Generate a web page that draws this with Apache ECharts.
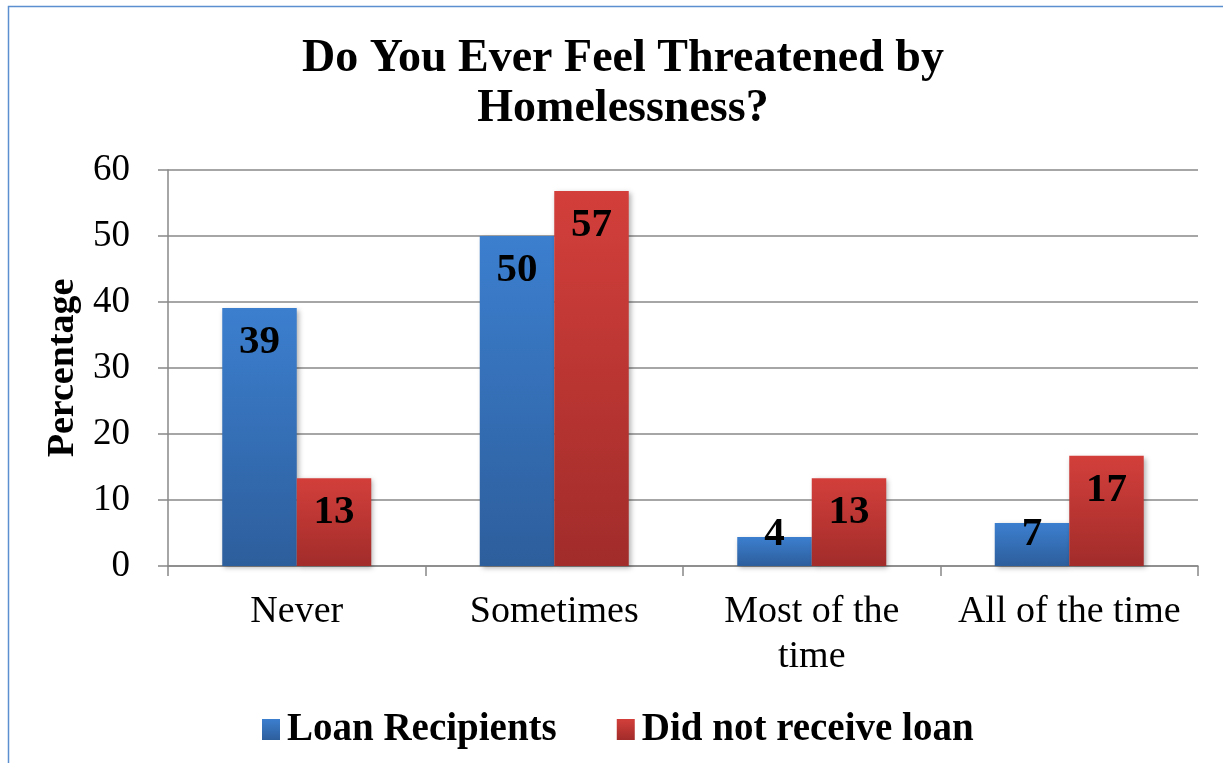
<!DOCTYPE html>
<html><head><meta charset="utf-8">
<script src="https://cdn.jsdelivr.net/npm/echarts@6/dist/echarts.min.js"></script>
<style>html,body{margin:0;padding:0;background:#fff}#c{width:1223px;height:763px}</style>
</head><body><div id="c"></div>
<script>
const categories = ['Never', 'Sometimes', 'Most of the\ntime', 'All of the time'];
const loanRecipients = [39.1, 50, 4.4, 6.5];
const noLoan = [13.3, 56.8, 13.3, 16.7];
const seriesNames = ['Loan Recipients', 'Did not receive loan'];
const yTicks = [0, 10, 20, 30, 40, 50, 60];

const F = 'Liberation Serif';
const chart = echarts.init(document.getElementById('c'), null, {renderer: 'canvas'});

function grad(top, bottom) {
  return new echarts.graphic.LinearGradient(0, 0, 0, 1, [{offset: 0, color: top}, {offset: 1, color: bottom}]);
}
function mkData(vals) {
  return vals.map(v => v < 10
    ? {value: v, label: {position: 'insideBottom', distance: 11}}
    : {value: v});
}
const labelStyle = {
  show: true, position: 'insideTop', distance: 14,
  fontFamily: F, fontWeight: 'bold', fontSize: 41, color: '#000',
  formatter: p => Math.round(p.value)
};

chart.setOption({
  animation: false,
  backgroundColor: '#fff',
  title: {
    text: 'Do You Ever Feel Threatened by\nHomelessness?',
    left: 618, textAlign: 'center', top: 29,
    textStyle: {fontFamily: F, fontWeight: 'bold', fontSize: 46, lineHeight: 50, color: '#000'}
  },
  legend: {
    top: 705, left: 257,
    itemWidth: 18, itemHeight: 21, itemGap: 60,
    icon: 'rect',
    textStyle: {fontFamily: F, fontWeight: 'bold', fontSize: 39, color: '#000', padding: [0, 0, 0, 2]},
    data: seriesNames
  },
  grid: {left: 168, right: 25, top: 170, bottom: 197},
  xAxis: {
    type: 'category', data: categories,
    axisLine: {lineStyle: {color: '#888', width: 1.5}},
    axisTick: {show: true, interval: 0, length: 10, lineStyle: {color: '#888', width: 1.5}},
    axisLabel: {interval: 0, fontFamily: F, fontSize: 38, color: '#000', margin: 24, lineHeight: 45}
  },
  yAxis: {
    type: 'value', min: 0, max: 60, interval: 10,
    name: 'Percentage', nameLocation: 'middle', nameGap: 84, nameRotate: 90,
    nameTextStyle: {fontFamily: F, fontWeight: 'bold', fontSize: 38, color: '#000'},
    axisLine: {show: true, lineStyle: {color: '#888', width: 1.5}},
    axisTick: {show: true, length: 10, lineStyle: {color: '#888', width: 1.5}},
    axisLabel: {fontFamily: F, fontSize: 37, color: '#000', margin: 38,
      formatter: v => yTicks.includes(v) ? String(v) : ''},
    splitLine: {lineStyle: {color: '#888', width: 1.5}}
  },
  series: [
    {name: seriesNames[0], type: 'bar', data: mkData(loanRecipients),
     barWidth: 74.5, barGap: '0%',
     itemStyle: {color: grad('#3c7fcf', '#2d5e9c'), shadowColor: 'rgba(0,0,0,0.3)', shadowBlur: 5, shadowOffsetX: 2, shadowOffsetY: 2},
     label: labelStyle},
    {name: seriesNames[1], type: 'bar', data: mkData(noLoan),
     barWidth: 74.5, barGap: '0%',
     itemStyle: {color: grad('#d33f3b', '#a12c2a'), shadowColor: 'rgba(0,0,0,0.3)', shadowBlur: 5, shadowOffsetX: 2, shadowOffsetY: 2},
     label: labelStyle}
  ],
  graphic: [
    {type: 'polyline', shape: {points: [[8.5, 763], [8.5, 6.5], [1223, 6.5]]}, style: {stroke: '#5b8fd0', lineWidth: 1.5, fill: null}, silent: true}
  ]
});
</script></body></html>
